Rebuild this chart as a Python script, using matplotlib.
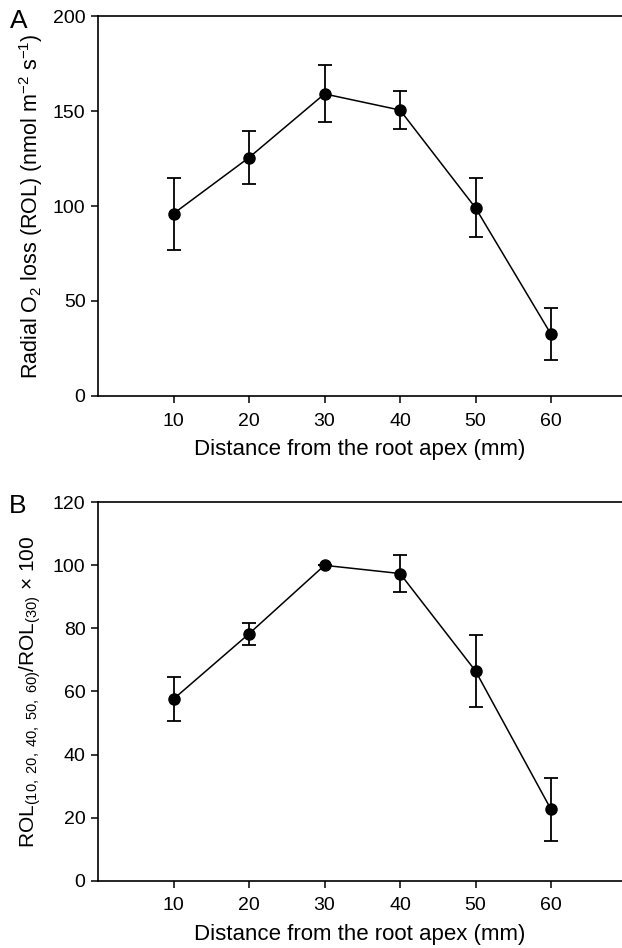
import matplotlib
matplotlib.use("Agg")
import matplotlib.pyplot as plt

plt.rcParams['font.family'] = ['Liberation Sans', 'DejaVu Sans']
plt.rcParams['mathtext.fontset'] = 'custom'
plt.rcParams['mathtext.rm'] = 'Liberation Sans'
plt.rcParams['mathtext.it'] = 'Liberation Sans'

# Data
distance = [10, 20, 30, 40, 50, 60]
rol = [96, 125.5, 159, 150.5, 99, 32.5]
rol_err = [19, 14, 15, 10, 15.5, 13.7]
rel = [57.6, 78.3, 100, 97.4, 66.5, 22.6]
rel_err = [6.9, 3.5, 0, 6, 11.4, 10]

fig = plt.figure(figsize=(6.22, 9.48), dpi=100)
ax1 = fig.add_axes([0.1576, 0.5823, 0.8424, 0.4008])
ax2 = fig.add_axes([0.1576, 0.0710, 0.8424, 0.3992])

def style(ax, ymax, ystep):
    ax.set_xlim(0, 69.4)
    ax.set_ylim(0, ymax)
    ax.set_xticks(distance)
    ax.set_yticks(range(0, ymax + 1, ystep))
    ax.spines['right'].set_visible(False)
    for s in ['left', 'top', 'bottom']:
        ax.spines[s].set_linewidth(1.2)
    ax.tick_params(direction='out', length=5, width=1.1, labelsize=14, pad=4)
    ax.tick_params(axis='x', pad=7)
    ax.set_xlabel('Distance from the root apex (mm)', fontsize=16, labelpad=7)

ax1.errorbar(distance, rol, yerr=rol_err, fmt='-o', color='black', ms=8,
             lw=1.1, elinewidth=1.3, capsize=5, capthick=1.3)
style(ax1, 200, 50)
ax1.set_ylabel('Radial O$_2$ loss (ROL) (nmol m$^{-2}$ s$^{-1}$)', fontsize=15.5, labelpad=6)

ax2.errorbar(distance, rel, yerr=rel_err, fmt='-o', color='black', ms=8,
             lw=1.1, elinewidth=1.3, capsize=5, capthick=1.3)
style(ax2, 120, 20)
ax2.set_ylabel('ROL$_{(10,\\ 20,\\ 40,\\ 50,\\ 60)}$/ROL$_{(30)}$ $\\times$ 100', fontsize=15, labelpad=7)

fig.text(0.016, 0.990, 'A', fontsize=19, va='top')
fig.text(0.014, 0.479, 'B', fontsize=19, va='top')

fig.savefig('out.png', dpi=100)
